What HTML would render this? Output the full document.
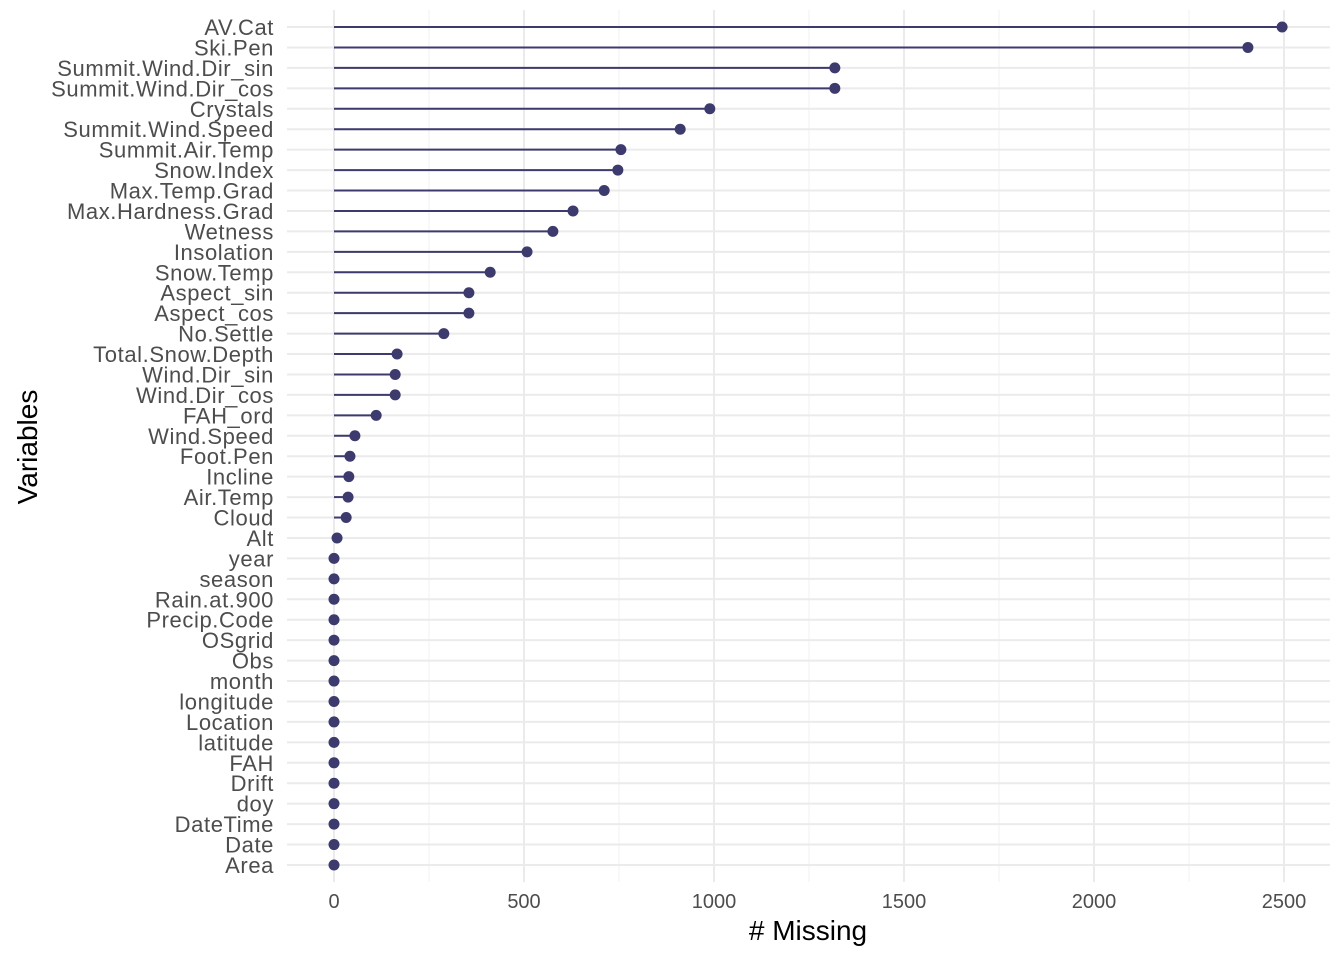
<!DOCTYPE html>
<html><head><meta charset="utf-8"><style>
html,body{margin:0;padding:0;background:#fff;}
svg text{font-family:"Liberation Sans",Arial,sans-serif;}
</style></head><body>
<svg id="chart" width="1344" height="960" xmlns="http://www.w3.org/2000/svg">
<g id="grid"></g>
<g id="marks"></g>
<g id="ylabels"></g>
<g id="xlabels"></g>
<text x="808" y="940" font-size="28" text-anchor="middle" fill="#000"># Missing</text>
<text transform="translate(37,447) rotate(-90)" font-size="28" text-anchor="middle" fill="#000">Variables</text>
</svg>
<script>
const categories = ["AV.Cat","Ski.Pen","Summit.Wind.Dir_sin","Summit.Wind.Dir_cos","Crystals","Summit.Wind.Speed","Summit.Air.Temp","Snow.Index","Max.Temp.Grad","Max.Hardness.Grad","Wetness","Insolation","Snow.Temp","Aspect_sin","Aspect_cos","No.Settle","Total.Snow.Depth","Wind.Dir_sin","Wind.Dir_cos","FAH_ord","Wind.Speed","Foot.Pen","Incline","Air.Temp","Cloud","Alt","year","season","Rain.at.900","Precip.Code","OSgrid","Obs","month","longitude","Location","latitude","FAH","Drift","doy","DateTime","Date","Area"];
const missing = [2495,2405,1318,1318,989,911,755,747,711,629,576,508,411,355,355,289,166,161,161,111,55,42,39,37,32,8,0,0,0,0,0,0,0,0,0,0,0,0,0,0,0,0];
const xTicks = [0,500,1000,1500,2000,2500];
const xMinor = [250,750,1250,1750,2250];

const NS="http://www.w3.org/2000/svg";
const x = v => 334 + v*0.38;
const y = i => 27 + i*(865-27)/41;
const L=287, R=1330, T=10, B=882;
function mk(tag, attrs, parent){const e=document.createElementNS(NS,tag);for(const k in attrs)e.setAttribute(k,attrs[k]);parent.appendChild(e);return e;}
const grid=document.getElementById('grid'), marks=document.getElementById('marks'), yl=document.getElementById('ylabels'), xl=document.getElementById('xlabels');
xMinor.forEach(v=>{const l=mk('line',{x1:x(v),x2:x(v),y1:T,y2:B,stroke:'#f2f2f2','stroke-width':1},grid);

});
xTicks.forEach(v=>{const l=mk('line',{x1:x(v),x2:x(v),y1:T,y2:B,stroke:'#ebebeb','stroke-width':2},grid);


const t=mk('text',{x:x(v),y:908,'font-size':20,'text-anchor':'middle',fill:'#4d4d4d'},xl);t.textContent=v;

});
categories.forEach((c,i)=>{const yy=y(i);
const g=mk('line',{x1:L,x2:R,y1:yy,y2:yy,stroke:'#ebebeb','stroke-width':2},grid);


const t=mk('text',{x:274,y:yy+8,'font-size':22,'letter-spacing':0.6,'text-anchor':'end',fill:'#4d4d4d'},yl);t.textContent=c;


const s=mk('line',{x1:x(0),x2:x(missing[i]),y1:yy,y2:yy,stroke:'#3d3a6e','stroke-width':2},marks);


const p=mk('circle',{cx:x(missing[i]),cy:yy,r:5.5,fill:'#3d3a6e'},marks);

});
</script>
</body></html>
